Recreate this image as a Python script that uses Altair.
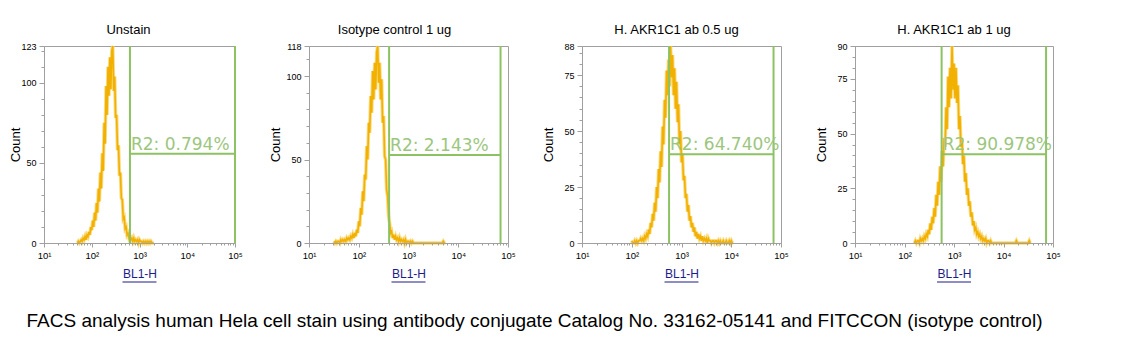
import altair as alt
import numpy as np
import pandas as pd

# ---------------- data ----------------
panel_titles = ["Unstain", "Isotype control 1 ug", "H. AKR1C1 ab 0.5 ug", "H. AKR1C1 ab 1 ug"]
y_max = [123, 118, 88, 90]
y_tick_values = [[0, 50, 100, 123], [0, 50, 100, 118], [0, 25, 50, 75, 88], [0, 25, 50, 75, 90]]
y_minor_step = [10, 10, 5, 5]
x_tick_values = [1, 2, 3, 4, 5]
x_tick_labels = ["10¹", "10²", "10³", "10⁴", "10⁵"]
gate_lo = [2.80, 2.61, 2.75, 2.75]          # log10(BL1-H)
gate_hi = [5.00, 4.85, 4.85, 4.86]
gate_level = [55.8, 52.7, 39.7, 40.6]       # count
gate_labels = ["R2: 0.794%", "R2: 2.143%", "R2: 64.740%", "R2: 90.978%"]
caption = "FACS analysis human Hela cell stain using antibody conjugate Catalog No. 33162-05141 and FITCCON (isotype control)"

# histogram channels: first bin (log10 BL1-H) and bin width
bin_start = [1.70, 1.50, 2.00, 2.20]
bin_step = 0.02

counts_unstain = [
    0, 1, 0, 1, 2, 1, 3, 2, 4, 2, 5, 4, 7, 5, 10, 8, 14, 10, 19, 14,
    25, 19, 34, 26, 44, 34, 56, 45, 75, 62, 98, 80, 110, 92, 116, 96, 120, 123, 95, 104,
    78, 80, 58, 61, 42, 44, 28, 27, 15, 16, 9, 10, 5, 6, 3, 4, 2, 3, 1, 3,
    1, 2, 1, 2, 0, 2, 1, 1, 0, 1, 0, 1, 0, 1, 0, 1, 0, 1, 0, 0, 0]
counts_isotype = [
    1, 0, 1, 0, 1, 1, 0, 2, 1, 2, 1, 2, 1, 3, 2, 3, 2, 4, 3, 5,
    3, 6, 4, 8, 6, 13, 10, 21, 17, 31, 25, 41, 38, 58, 50, 72, 66, 88, 78, 103,
    86, 108, 92, 114, 118, 96, 108, 86, 98, 72, 76, 52, 50, 32, 28, 16, 12, 6, 7, 3,
    5, 2, 4, 2, 3, 1, 3, 1, 2, 1, 2, 0, 2, 0, 1, 1, 0, 1, 0, 1, 0, 0, 0, 0, 0, 0,
    0, 0, 0, 0, 0, 0, 0, 0, 0, 0, 0, 0, 0, 0, 0, 0, 0, 0, 0, 0, 0, 0, 0, 0, 1, 0, 0]
counts_ab05 = [
    1, 0, 0, 1, 0, 1, 0, 1, 1, 2, 1, 2, 1, 3, 2, 4, 3, 6, 4, 9,
    7, 13, 10, 18, 14, 25, 20, 33, 27, 41, 34, 52, 44, 64, 56, 77, 66, 82, 70, 88,
    74, 84, 66, 78, 60, 72, 54, 62, 44, 50, 36, 40, 28, 30, 20, 22, 14, 17, 10, 12,
    7, 9, 5, 7, 3, 5, 2, 4, 2, 3, 1, 3, 1, 2, 1, 2, 0, 2, 1, 1, 0, 1, 1, 0, 1, 1,
    0, 1, 0, 1, 0, 0, 1, 0, 0, 1, 0, 0, 1, 0, 1, 0, 0]
counts_ab1 = [
    0, 1, 0, 1, 1, 0, 2, 1, 2, 1, 3, 2, 4, 3, 6, 4, 9, 6, 12, 9,
    16, 12, 22, 17, 28, 22, 35, 28, 42, 35, 48, 44, 62, 52, 76, 62, 80, 66, 90, 70,
    82, 66, 80, 64, 72, 52, 58, 44, 48, 36, 40, 28, 32, 22, 25, 17, 19, 12, 14, 8,
    10, 6, 7, 4, 5, 3, 4, 2, 3, 1, 2, 1, 2, 0, 1, 1, 0, 1, 0, 0, 0,
    0, 0, 0, 0, 0, 0, 0, 0, 0, 0, 0, 0, 0, 0, 0, 0, 0, 0, 0, 0, 0, 0, 1, 0, 0, 0,
    0, 0, 0, 0, 0, 0, 0, 0, 0, 1, 0]
all_counts = [counts_unstain, counts_isotype, counts_ab05, counts_ab1]

# ---------------- layout / style ----------------
panel_width = [191, 199, 199, 198]
panel_height = 197
title_dx = [-11, -14, -5, 0]
count_title_x = [-29, -34, -34, -34]
HIST = "#F2B000"
HALO = "#F8D670"
GATE = "#8DC262"
GATE_TEXT = "#9CC67E"
GREY = "#A0A0A0"
FONT = "Liberation Sans"

minor_x = [round(n + np.log10(k), 4) for n in range(1, 5) for k in range(2, 10)]


def make_panel(i):
    counts = all_counts[i]
    df = pd.DataFrame({
        "pos": [round(bin_start[i] + k * bin_step, 3) for k in range(len(counts))],
        "count": counts,
    })
    gate_df = pd.DataFrame({
        "lo": [gate_lo[i]], "hi": [gate_hi[i]], "level": [gate_level[i]],
        "top": [y_max[i]], "label": [gate_labels[i]],
    })
    gate_v_df = pd.DataFrame({"g": [gate_lo[i], gate_hi[i]], "top": [y_max[i]] * 2})

    xscale = alt.Scale(domain=[1, 5], nice=False, zero=False)
    yscale = alt.Scale(domain=[0, y_max[i]], nice=False, zero=True)

    x_major = alt.Axis(
        orient="bottom", values=x_tick_values,
        labelExpr=f"{x_tick_labels}[round(datum.value) - 1]",
        title="BL1-H", titleColor="#1C1C8A", titleFont=FONT, titleFontSize=12,
        titleFontWeight="normal", titlePadding=9,
        labelFont=FONT, labelFontSize=9.5, labelColor="#000000", labelPadding=3,
        labelFlush=False, labelOverlap=False,
        tickSize=4, tickColor=GREY, domainColor=GREY, grid=False, zindex=1,
    )
    y_major = alt.Axis(
        orient="left", values=y_tick_values[i],
        title="Count", titleFont=FONT, titleFontSize=13, titleFontWeight="normal",
        titleColor="#000000", titleX=count_title_x[i], titleY=panel_height / 2,
        titleAngle=-90, titleAlign="center", titleBaseline="middle",
        labelFont=FONT, labelFontSize=9, labelColor="#000000", labelPadding=3,
        labelFlush=False, labelOverlap=False,
        tickSize=5, tickColor=GREY, domainColor=GREY, grid=False, zindex=1,
    )
    x_minor = alt.Axis(
        orient="bottom", values=minor_x, labels=False, title=None, domain=False,
        tickSize=2, tickColor=GREY, grid=False, zindex=1,
    )
    y_minor = alt.Axis(
        orient="left", values=list(range(0, y_max[i] + 1, y_minor_step[i])),
        labels=False, title=None, domain=False,
        tickSize=3, tickColor=GREY, grid=False, zindex=1,
    )

    halo = alt.Chart(df).mark_line(color=HALO, strokeWidth=3.5, opacity=0.85).encode(
        x=alt.X("pos:Q", scale=xscale, axis=None),
        y=alt.Y("count:Q", scale=yscale, axis=None),
    )
    hist = alt.Chart(df).mark_line(color=HIST, strokeWidth=1.6).encode(
        x=alt.X("pos:Q", scale=xscale, axis=x_major),
        y=alt.Y("count:Q", scale=yscale, axis=y_major),
    )
    gate_v = alt.Chart(gate_v_df).mark_rule(color=GATE, strokeWidth=2).encode(
        x=alt.X("g:Q", scale=xscale, axis=x_minor),
        y=alt.Y("top:Q", scale=yscale, axis=y_minor),
        y2=alt.datum(0),
    )
    gate_h = alt.Chart(gate_df).mark_rule(color=GATE, strokeWidth=2).encode(
        x=alt.X("lo:Q", scale=xscale, axis=None),
        x2="hi:Q",
        y=alt.Y("level:Q", scale=yscale, axis=None),
    )
    gate_t = alt.Chart(gate_df).mark_text(
        color=GATE_TEXT, font="DejaVu Sans", fontSize=17, align="left",
        baseline="alphabetic", dx=1, dy=-4,
    ).encode(
        x=alt.X("lo:Q", scale=xscale, axis=None),
        y=alt.Y("level:Q", scale=yscale, axis=None),
        text="label:N",
    )
    underline = alt.Chart(gate_df).mark_rule(color="#1C1C8A", strokeWidth=1).encode(
        x=alt.value(panel_width[i] / 2 - 17),
        x2=alt.value(panel_width[i] / 2 + 17),
        y=alt.value(panel_height + 39),
    )

    return alt.layer(halo, hist, gate_v, gate_h, gate_t, underline).resolve_axis(
        x="independent", y="independent"
    ).properties(
        width=panel_width[i], height=panel_height,
        title=alt.TitleParams(
            panel_titles[i], font=FONT, fontSize=13, fontWeight="normal",
            color="#000000", anchor="middle", dx=title_dx[i], dy=4, offset=6,
        ),
    )


chart = alt.hconcat(*[make_panel(i) for i in range(4)], spacing=74, bounds="flush").properties(
    padding={"left": 0, "top": 15, "right": 0, "bottom": 0},
    title=alt.TitleParams(
        caption, orient="bottom", anchor="start", font=FONT, fontSize=19,
        fontWeight="normal", color="#000000", dx=18, offset=29,
    ),
).configure_view(stroke=GREY, strokeWidth=1)

chart.save("out.html", embed_options={"renderer": "svg", "actions": False})
